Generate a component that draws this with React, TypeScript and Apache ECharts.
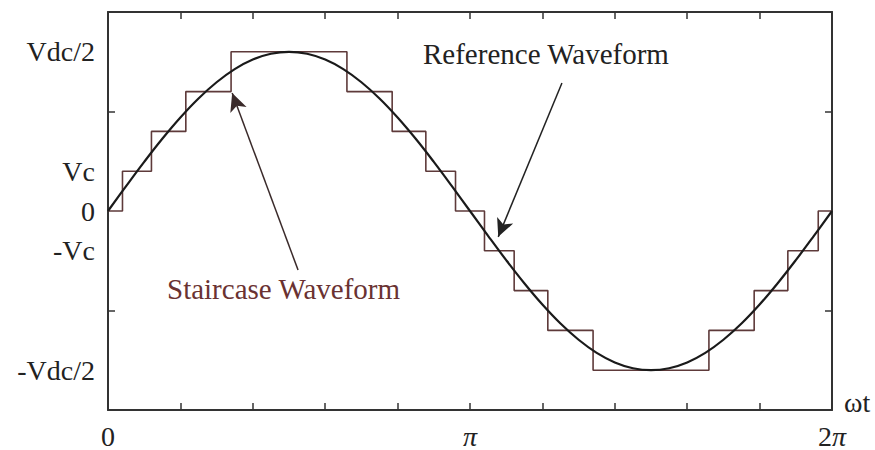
import React, { useEffect, useRef } from "react";
import * as echarts from "echarts";

// x in units of π
const sineX = [0, 0.05, 0.1, 0.15, 0.2, 0.25, 0.3, 0.35, 0.4, 0.45, 0.5, 0.55, 0.6, 0.65, 0.7, 0.75, 0.8, 0.85, 0.9, 0.95, 1, 1.05, 1.1, 1.15, 1.2, 1.25, 1.3, 1.35, 1.4, 1.45, 1.5, 1.55, 1.6, 1.65, 1.7, 1.75, 1.8, 1.85, 1.9, 1.95, 2];
const sineY = [0, 0.25, 0.494, 0.726, 0.94, 1.131, 1.294, 1.426, 1.522, 1.58, 1.6, 1.58, 1.522, 1.426, 1.294, 1.131, 0.94, 0.726, 0.494, 0.25, 0, -0.25, -0.494, -0.726, -0.94, -1.131, -1.294, -1.426, -1.522, -1.58, -1.6, -1.58, -1.522, -1.426, -1.294, -1.131, -0.94, -0.726, -0.494, -0.25, 0];

const stepX = [0, 0.04, 0.12, 0.215, 0.34, 0.66, 0.785, 0.878, 0.96, 1.04, 1.122, 1.215, 1.34, 1.66, 1.785, 1.878, 1.962, 2];
const stepY = [0, 0.4, 0.8, 1.2, 1.6, 1.2, 0.8, 0.4, 0, -0.4, -0.8, -1.2, -1.6, -1.2, -0.8, -0.4, 0, 0];

const yLabelValues = [1.6, 0.4, 0, -0.4, -1.6];
const yLabelTexts = ["Vdc/2", "Vc", "0", "-Vc", "-Vdc/2"];
const yTickValues = [-1, 1];

const refArrow = { from: [1.254, 1.286], to: [1.078, -0.26] };
const stairArrow = { from: [0.525, -0.593], to: [0.343, 1.185] };

const FONT = "'Liberation Serif', 'Times New Roman', serif";

export default function App() {
  const ref = useRef<HTMLDivElement>(null);
  useEffect(() => {
    if (!ref.current) return;
    const chart = echarts.init(ref.current, null, { renderer: "svg" });
    const axisLine = { show: true, onZero: false, lineStyle: { color: "#333", width: 2 } };
    const tick = { show: true, inside: true, length: 7, lineStyle: { color: "#333", width: 1.5 } };
    chart.setOption({
      animation: false,
      backgroundColor: "#fff",
      grid: { left: 108, right: 43, top: 12, bottom: 40, show: false },
      xAxis: [
        {
          type: "value",
          min: 0,
          max: 2,
          interval: 0.2,
          position: "bottom",
          axisLine,
          axisTick: tick,
          splitLine: { show: false },
          name: "ωt",
          nameLocation: "end",
          nameGap: 12,
          nameTextStyle: { fontFamily: FONT, fontSize: 28, color: "#222", verticalAlign: "bottom", padding: [0, 0, -6, 0] },
          axisLabel: {
            customValues: [0, 1, 2],
            margin: 12,
            fontFamily: FONT,
            fontSize: 28,
            color: "#222",
            formatter: (v: number) => {
              if (Math.abs(v) < 1e-6) return "0";
              if (Math.abs(v - 1) < 1e-6) return "{i|π}";
              if (Math.abs(v - 2) < 1e-6) return "2{i|π}";
              return "";
            },
            rich: { i: { fontFamily: FONT, fontSize: 28, fontStyle: "italic", color: "#222" } },
          },
        },
        {
          type: "value",
          min: 0,
          max: 2,
          interval: 0.2,
          position: "top",
          axisLine,
          axisTick: tick,
          axisLabel: { show: false },
          splitLine: { show: false },
        },
      ],
      yAxis: [
        {
          type: "value",
          min: -2,
          max: 2,
          interval: 1,
          position: "left",
          axisLine,
          axisTick: { ...tick, customValues: yTickValues },
          splitLine: { show: false },
          axisLabel: {
            customValues: yLabelValues,
            margin: 13,
            fontFamily: FONT,
            fontSize: 28,
            color: "#222",
            formatter: (v: number) => {
              const idx = yLabelValues.findIndex((u) => Math.abs(u - v) < 1e-6);
              return idx >= 0 ? yLabelTexts[idx] : "";
            },
          },
        },
        {
          type: "value",
          min: -2,
          max: 2,
          interval: 1,
          position: "right",
          axisLine,
          axisTick: { ...tick, customValues: yTickValues },
          axisLabel: { show: false },
          splitLine: { show: false },
        },
      ],
      series: [
        {
          name: "Staircase Waveform",
          type: "line",
          step: "end",
          data: stepX.map((x, i) => [x, stepY[i]]),
          showSymbol: false,
          lineStyle: { color: "#5e3a3a", width: 1.6 },
          z: 2,
        },
        {
          name: "Reference Waveform",
          type: "line",
          smooth: 0.4,
          data: sineX.map((x, i) => [x, sineY[i]]),
          showSymbol: false,
          lineStyle: { color: "#1a1a1a", width: 2.2 },
          z: 3,
          markLine: {
            silent: true,
            animation: false,
            symbol: ["none", "arrow"],
            symbolSize: [13, 18],
            label: { show: false },
            data: [
              [
                { coord: refArrow.from, lineStyle: { color: "#222", width: 1.5, type: "solid" }, itemStyle: { color: "#000" } },
                { coord: refArrow.to },
              ],
              [
                { coord: stairArrow.from, lineStyle: { color: "#3a2a2a", width: 1.5, type: "solid" }, itemStyle: { color: "#8e1c0c" } },
                { coord: stairArrow.to },
              ],
            ],
          },
        },
      ],
      graphic: [
        {
          type: "text",
          left: 423,
          top: 39,
          style: { text: "Reference Waveform", fontFamily: FONT, fontSize: 29, fill: "#222" },
        },
        {
          type: "text",
          left: 167,
          top: 274,
          style: { text: "Staircase Waveform", fontFamily: FONT, fontSize: 29, fill: "#6a3232" },
        },
      ],
    });
    return () => chart.dispose();
  }, []);
  return <div ref={ref} style={{ position: "fixed", left: 0, top: 0, width: 875, height: 450 }} />;
}
